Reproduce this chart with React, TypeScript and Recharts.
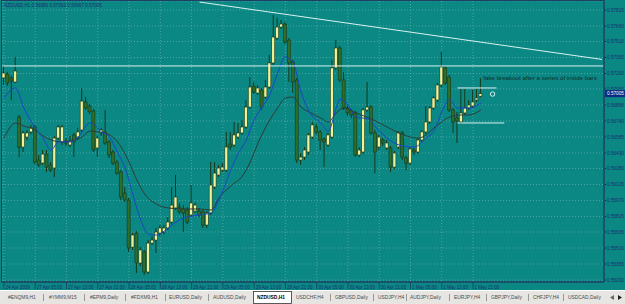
import {
  ComposedChart,
  Bar,
  Line,
  XAxis,
  YAxis,
  CartesianGrid,
  ReferenceLine,
  ReferenceDot,
} from 'recharts';

// NZDUSD H1 candles (bar 0 = 24 Apr 2009)
const OPEN = [
  0.57157, 0.57195, 0.57157, 0.57118, 0.56779, 0.56488, 0.56585, 0.56634, 0.56682, 0.56362,
  0.56333, 0.5642, 0.56314, 0.56285, 0.56575, 0.56537, 0.56546, 0.56508, 0.56605, 0.56585,
  0.56653, 0.56924, 0.56885, 0.56837, 0.56479, 0.56624, 0.56634, 0.56537, 0.5644, 0.56343,
  0.56246, 0.56043, 0.55975, 0.55519, 0.55655, 0.55365, 0.55472, 0.55278, 0.55558, 0.55587,
  0.55655, 0.55665, 0.55704, 0.55762, 0.55898, 0.55907, 0.55888, 0.55878, 0.5583, 0.55868,
  0.55868, 0.55859, 0.55733, 0.55849, 0.56101, 0.56217, 0.56265, 0.56265, 0.56517, 0.56508,
  0.56585, 0.56624, 0.56682, 0.56875, 0.57079, 0.57011, 0.5704, 0.56972, 0.57069, 0.57302,
  0.57543, 0.5765, 0.57679, 0.57524, 0.57312, 0.57137, 0.56362, 0.56391, 0.5644, 0.56585,
  0.56682, 0.56634, 0.56566, 0.56508, 0.56585, 0.57254, 0.57447, 0.57137, 0.56866, 0.56837,
  0.56818, 0.56411, 0.5644, 0.56847, 0.56875, 0.56624, 0.56488, 0.56556, 0.56479, 0.56479,
  0.56294, 0.56488, 0.56624, 0.56382, 0.56333, 0.56459, 0.5644, 0.56556, 0.56634, 0.56731,
  0.56866, 0.56943, 0.57089, 0.57254, 0.57166, 0.56847, 0.5677, 0.56731, 0.56818, 0.56866,
  0.56885, 0.56943, 0.5698,
];
const HIGH = [
  0.57283, 0.57215, 0.57176, 0.5736, 0.56798, 0.56643, 0.56653, 0.56702, 0.56702, 0.56411,
  0.56459, 0.56459, 0.56343, 0.56595, 0.56702, 0.56702, 0.56575, 0.56595, 0.56624, 0.56673,
  0.5706, 0.56972, 0.56904, 0.56856, 0.56595, 0.56673, 0.56847, 0.56556, 0.56459, 0.56362,
  0.56265, 0.56101, 0.55995, 0.55655, 0.55674, 0.55519, 0.55491, 0.55587, 0.55626, 0.55704,
  0.55733, 0.55733, 0.5581, 0.56101, 0.56217, 0.55946, 0.55926, 0.55907, 0.5612, 0.55946,
  0.55898, 0.55878, 0.55868, 0.56343, 0.56343, 0.56314, 0.56333, 0.56634, 0.56634, 0.56731,
  0.56721, 0.5675, 0.56943, 0.57166, 0.57118, 0.57089, 0.5706, 0.57137, 0.5738, 0.57767,
  0.57738, 0.57718, 0.57699, 0.57543, 0.57331, 0.57157, 0.5643, 0.56488, 0.56624, 0.56731,
  0.56711, 0.56653, 0.56585, 0.56624, 0.57331, 0.57524, 0.57466, 0.57215, 0.56885, 0.56856,
  0.56837, 0.56488, 0.56866, 0.57118, 0.56895, 0.56653, 0.56605, 0.56575, 0.56556, 0.56498,
  0.56449, 0.56643, 0.56643, 0.56401, 0.56488, 0.56479, 0.56575, 0.56653, 0.56885, 0.56885,
  0.56982, 0.57108, 0.57409, 0.57273, 0.57186, 0.56866, 0.56828, 0.5705, 0.5705, 0.56943,
  0.5704, 0.5705, 0.57157,
];
const LOW = [
  0.57089, 0.57079, 0.56943, 0.57108, 0.56391, 0.5644, 0.56556, 0.56614, 0.56323, 0.56294,
  0.56314, 0.56246, 0.56246, 0.56197, 0.56556, 0.56508, 0.56498, 0.56488, 0.56391, 0.56556,
  0.56634, 0.56847, 0.56808, 0.5644, 0.56391, 0.56595, 0.56508, 0.56382, 0.56314, 0.56217,
  0.55975, 0.55956, 0.55472, 0.55491, 0.55268, 0.55336, 0.55249, 0.55258, 0.55539, 0.55462,
  0.55626, 0.55645, 0.55684, 0.55742, 0.55878, 0.55839, 0.55665, 0.55742, 0.5581, 0.55849,
  0.5581, 0.55704, 0.55704, 0.5583, 0.56082, 0.56197, 0.56246, 0.56246, 0.56459, 0.56488,
  0.56566, 0.56605, 0.56663, 0.56856, 0.57001, 0.56992, 0.56847, 0.56953, 0.5705, 0.57283,
  0.57524, 0.57631, 0.57485, 0.57118, 0.57011, 0.56333, 0.56314, 0.56362, 0.56411, 0.56566,
  0.56614, 0.56459, 0.56294, 0.56488, 0.56566, 0.57234, 0.57118, 0.56847, 0.56789, 0.5677,
  0.56391, 0.56391, 0.5642, 0.56828, 0.56605, 0.56236, 0.56459, 0.56498, 0.56459, 0.56246,
  0.56275, 0.56469, 0.56362, 0.56265, 0.56314, 0.56411, 0.5642, 0.56537, 0.56614, 0.56711,
  0.56847, 0.56924, 0.57069, 0.57089, 0.56828, 0.56624, 0.56527, 0.56711, 0.56798, 0.56847,
  0.56866, 0.56924, 0.56967,
];
const CLOSE = [
  0.57205, 0.57108, 0.57127, 0.57224, 0.56488, 0.56624, 0.56624, 0.56673, 0.56343, 0.56314,
  0.5642, 0.56294, 0.56265, 0.56575, 0.56682, 0.56682, 0.56527, 0.56546, 0.56537, 0.56634,
  0.56933, 0.56866, 0.56828, 0.56459, 0.56575, 0.56653, 0.56527, 0.56411, 0.56333, 0.56236,
  0.56004, 0.55975, 0.5551, 0.55636, 0.55365, 0.55491, 0.55278, 0.55558, 0.55587, 0.55665,
  0.55704, 0.55704, 0.55762, 0.55926, 0.56004, 0.55859, 0.55849, 0.55762, 0.55946, 0.55926,
  0.5583, 0.55733, 0.55849, 0.5612, 0.56236, 0.56285, 0.56294, 0.56488, 0.56488, 0.56605,
  0.56624, 0.56682, 0.56875, 0.57069, 0.57021, 0.5706, 0.56875, 0.57069, 0.57302, 0.57553,
  0.5765, 0.57679, 0.57505, 0.57302, 0.57118, 0.56362, 0.56391, 0.56459, 0.56605, 0.56702,
  0.56634, 0.56556, 0.56537, 0.56605, 0.57254, 0.57447, 0.57137, 0.56866, 0.56818, 0.56798,
  0.56411, 0.56459, 0.56847, 0.56875, 0.56624, 0.5644, 0.56585, 0.56527, 0.56527, 0.56294,
  0.5643, 0.56624, 0.56391, 0.56333, 0.56469, 0.5644, 0.56556, 0.56634, 0.56731, 0.56866,
  0.56963, 0.57089, 0.57263, 0.57108, 0.56847, 0.56731, 0.5674, 0.56818, 0.56866, 0.56895,
  0.56924, 0.56963, 0.57005,
];

// moving averages, sampled at these bars
const FAST_AT = [
  0, 3, 5, 8, 10, 12, 14, 17, 19, 22, 25, 27, 29, 31, 33, 35, 37, 39, 41, 43, 46, 50, 53, 55, 58, 60,
  62, 64, 66, 68, 70, 72, 74, 76, 78, 81, 83, 85, 86, 88, 90, 93, 96, 99, 102, 105, 108, 110, 112,
  114, 116, 119, 122,
];
const FAST_MA = [
  0.56963, 0.5706, 0.56875, 0.56673, 0.56575, 0.56459, 0.56537, 0.56537, 0.56585, 0.56721, 0.56634,
  0.56585, 0.5644, 0.56285, 0.56024, 0.55781, 0.55645, 0.55636, 0.55674, 0.55733, 0.55801, 0.5583,
  0.55849, 0.55975, 0.56265, 0.5643, 0.56556, 0.5675, 0.56875, 0.56992, 0.57205, 0.5736, 0.57302,
  0.57021, 0.56837, 0.56721, 0.56643, 0.56866, 0.56953, 0.56895, 0.56779, 0.5676, 0.56643, 0.56546,
  0.56498, 0.56488, 0.56575, 0.56643, 0.56828, 0.56943, 0.56866, 0.56866, 0.56914,
];
const SLOW_AT = [
  0, 3, 5, 8, 10, 13, 15, 18, 20, 22, 24, 27, 30, 32, 34, 36, 39, 42, 46, 50, 53, 55, 58, 61, 63, 65,
  68, 70, 72, 74, 76, 78, 81, 83, 85, 87, 90, 94, 97, 100, 103, 106, 108, 110, 112, 114, 117, 119, 122,
];
const SLOW_MA = [
  0.56575, 0.56721, 0.56692, 0.56653, 0.56595, 0.56546, 0.56537, 0.56556, 0.56585, 0.56643, 0.56634,
  0.56605, 0.56488, 0.56343, 0.56169, 0.56033, 0.55936, 0.55898, 0.55888, 0.55888, 0.55878, 0.55995,
  0.56111, 0.56207, 0.56343, 0.56527, 0.5675, 0.56866, 0.56963, 0.56972, 0.56875, 0.56828, 0.5677,
  0.56731, 0.56818, 0.56866, 0.56818, 0.5676, 0.56702, 0.56643, 0.56595, 0.56575, 0.56605, 0.56673,
  0.56731, 0.56779, 0.56798, 0.56798, 0.56847,
];

const TIME_TICKS = [0, 8, 16, 24, 32, 40, 48, 56, 64, 72, 80, 88, 96, 104, 112, 120];
const TIME_LABELS = [
  '24 Apr 2009', '27 Apr 05:00', '27 Apr 13:00', '27 Apr 21:00', '28 Apr 05:00', '28 Apr 13:00',
  '28 Apr 21:00', '29 Apr 05:00', '29 Apr 13:00', '29 Apr 21:00', '30 Apr 05:00', '30 Apr 13:00',
  '30 Apr 21:00', '1 May 05:00', '1 May 13:00', '1 May 21:00',
];
const PRICE_TICKS = [
  0.57815, 0.5766, 0.5751, 0.57355, 0.572, 0.5705, 0.56896, 0.5674, 0.56585, 0.5643, 0.5628,
  0.56125, 0.5597, 0.55815, 0.55665, 0.5551, 0.55355, 0.552,
];

// bar slots visible on screen (the chart is shifted, so empty slots follow the last bar)
const SLOTS = 154;

// drawn objects: bar slot, price
const RESISTANCE = 0.57273;
const TREND = [{ x: 50, y: 0.57892 }, { x: 153, y: 0.57336 }];
const BOX_HIGH = [{ x: 116, y: 0.5706 }, { x: 126, y: 0.5706 }];
const BOX_LOW = [{ x: 116, y: 0.56721 }, { x: 128, y: 0.56721 }];
const MARK = { x: 125, y: 0.57001 };
const NOTE = { x: 123, y: 0.57157, text: 'fake breakout after a series of inside bars' };

const HEADER = 'NZDUSD,H1  0.56980 0.57063 0.56967 0.57005';
const LAST_CLOSE = CLOSE[CLOSE.length - 1];

const TABS = [
  '#ENQM9,H1', '#YMM9,M15', '#EPM9,Daily', '#FDXM9,H1', 'EURUSD,Daily', 'AUDUSD,Daily', 'NZDUSD,H1',
  'USDCHF,H4', 'GBPUSD,Daily', 'USDJPY,H4', 'AUDJPY,Daily', 'EURJPY,H4', 'GBPJPY,Daily', 'CHFJPY,H4',
  'USDCAD,Daily',
];
const ACTIVE_TAB = 6;
const TAB_X = [8, 49, 90, 131, 169, 213, 257, 296, 335, 378, 410, 454, 491, 533, 568];
const SEP_X = [43, 84, 125, 165, 208, 330, 373, 406, 449, 486, 528, 563];

const FONT = '"Liberation Sans", Arial, sans-serif';
const TEAL = '#0b8784';
const GRID = '#5eaca8';
const FRAME = '#1d3f63';
const NAVY = '#1b2f70';
const BULL = '#eef29a';
const BEAR = '#2e6e2a';
const OUTLINE = '#183818';
const BLUE = '#1f44c8';
const SLOW = '#2c3c3a';
const OBJ = '#d9f2f0';

const rows = Array.from({ length: SLOTS }, (_, i) => {
  if (i >= OPEN.length) return { i, range: null, fast: null, slow: null };
  const f = FAST_AT.indexOf(i);
  const s = SLOW_AT.indexOf(i);
  return {
    i,
    range: [LOW[i], HIGH[i]],
    open: OPEN[i],
    high: HIGH[i],
    low: LOW[i],
    close: CLOSE[i],
    fast: f >= 0 ? FAST_MA[f] : null,
    slow: s >= 0 ? SLOW_MA[s] : null,
  };
});

function Candle(props: any) {
  const { x, y, width, height, payload } = props;
  if (x == null || y == null || !payload || payload.open == null) return null;
  const { open, close, high, low } = payload;
  const span = high - low || 1e-9;
  const py = (v: number) => y + ((high - v) / span) * height;
  const cx = x + width / 2;
  const top = py(Math.max(open, close));
  const bot = py(Math.min(open, close));
  return (
    <g>
      <line x1={cx} x2={cx} y1={y} y2={y + height} stroke={OUTLINE} strokeWidth={1} />
      <rect
        x={x}
        y={Math.min(top, bot)}
        width={width}
        height={Math.max(Math.abs(bot - top), 1)}
        fill={close >= open ? BULL : BEAR}
        stroke={OUTLINE}
        strokeWidth={0.6}
      />
    </g>
  );
}

function TimeTick(props: any) {
  const { x, y, payload } = props;
  const k = TIME_TICKS.indexOf(payload.value);
  return (
    <g>
      <line x1={x} x2={x} y1={y - 3} y2={y + 4} stroke={FRAME} strokeWidth={0.8} />
      <text x={x + 1.5} y={y} dy="0.8em" fontSize={4.5} fill={NAVY} fontFamily={FONT}>
        {TIME_LABELS[k]}
      </text>
    </g>
  );
}

function PriceTag(props: any) {
  const vb = props.viewBox;
  if (!vb) return null;
  const x = vb.x + vb.width + 1;
  return (
    <g>
      <rect x={x} y={vb.y - 3.5} width={21} height={7} fill="#0d2a86" />
      <text x={x + 2} y={vb.y} dy="0.35em" fontSize={4.7} fill="#ffffff" fontFamily={FONT}>
        {LAST_CLOSE.toFixed(5)}
      </text>
    </g>
  );
}

function NoteLabel(props: any) {
  const vb = props.viewBox;
  if (!vb) return null;
  return (
    <text x={vb.x - 1.5} y={vb.y} dy="0.35em" fontSize={6.2} fill="#12302e" fontFamily={FONT}>
      {NOTE.text}
    </text>
  );
}

function TabBar() {
  return (
    <svg width={625} height={14} style={{ position: 'absolute', left: 0, top: 290 }}>
      <rect x={0} y={0} width={625} height={14} fill="#e6e5e1" />
      <line x1={0} x2={625} y1={0.5} y2={0.5} stroke="#ffffff" />
      {SEP_X.map((sx) => (
        <line key={sx} x1={sx + 0.5} x2={sx + 0.5} y1={4} y2={11} stroke="#777777" strokeWidth={0.7} />
      ))}
      <rect x={253.5} y={1.5} width={38} height={12} fill="#ffffff" stroke="#333333" strokeWidth={0.8} />
      {TABS.map((t, k) => (
        <text
          key={t}
          x={TAB_X[k]}
          y={8.8}
          fontSize={4.9}
          fill={k === ACTIVE_TAB ? '#000000' : '#4a4a4a'}
          fontWeight={k === ACTIVE_TAB ? 'bold' : 'normal'}
          fontFamily={FONT}
        >
          {t}
        </text>
      ))}
      <polygon points="610,7.5 614,5 614,10" fill="#666666" />
      <polygon points="622,7.5 618,5 618,10" fill="#222222" />
    </svg>
  );
}

export default function App() {
  return (
    <div
      style={{
        position: 'fixed',
        left: 0,
        top: 0,
        width: 625,
        height: 304,
        background: TEAL,
        overflow: 'hidden',
        fontFamily: FONT,
      }}
    >
      <ComposedChart width={625} height={290} data={rows} margin={{ top: 1, right: 0, bottom: 0, left: 2 }}>
        <CartesianGrid stroke={GRID} strokeDasharray="1 2" strokeWidth={0.8} />
        <XAxis
          dataKey="i"
          type="category"
          ticks={TIME_TICKS}
          interval={0}
          height={8}
          tickSize={0}
          tickMargin={3}
          tick={<TimeTick />}
          axisLine={{ stroke: FRAME }}
        />
        <YAxis
          orientation="right"
          type="number"
          domain={[0.55181, 0.57902]}
          allowDataOverflow
          ticks={PRICE_TICKS}
          interval={0}
          width={21}
          tickSize={2}
          tickMargin={1}
          tickFormatter={(v: number) => v.toFixed(5)}
          tick={{ fontSize: 4.7, fill: NAVY, fontFamily: FONT }}
          tickLine={{ stroke: NAVY }}
          axisLine={{ stroke: FRAME }}
        />
        <Bar dataKey="range" barSize={3} shape={(p: any) => <Candle {...p} />} isAnimationActive={false} />
        <Line
          dataKey="slow"
          type="monotone"
          stroke={SLOW}
          strokeWidth={1}
          dot={false}
          connectNulls
          isAnimationActive={false}
        />
        <Line
          dataKey="fast"
          type="monotone"
          stroke={BLUE}
          strokeWidth={1}
          dot={false}
          connectNulls
          isAnimationActive={false}
        />
        <ReferenceLine y={RESISTANCE} stroke={OBJ} strokeWidth={1} />
        <ReferenceLine segment={TREND} stroke={OBJ} strokeWidth={1} />
        <ReferenceLine segment={BOX_HIGH} stroke={OBJ} strokeWidth={1} />
        <ReferenceLine segment={BOX_LOW} stroke={OBJ} strokeWidth={1} />
        <ReferenceDot x={MARK.x} y={MARK.y} r={2.2} fill="none" stroke={OBJ} strokeWidth={1} />
        <ReferenceDot x={NOTE.x} y={NOTE.y} r={0} fill="none" stroke="none" label={<NoteLabel />} />
        <ReferenceLine y={LAST_CLOSE} stroke="none" label={<PriceTag />} />
      </ComposedChart>
      <svg width={625} height={290} style={{ position: 'absolute', left: 0, top: 0, pointerEvents: 'none' }}>
        <rect x={1.5} y={0.5} width={602.5} height={281.5} fill="none" stroke={FRAME} strokeWidth={1} />
        <text x={4} y={7.4} fontSize={4.6} fill={NAVY} fontFamily={FONT}>
          {HEADER}
        </text>
      </svg>
      <TabBar />
    </div>
  );
}
